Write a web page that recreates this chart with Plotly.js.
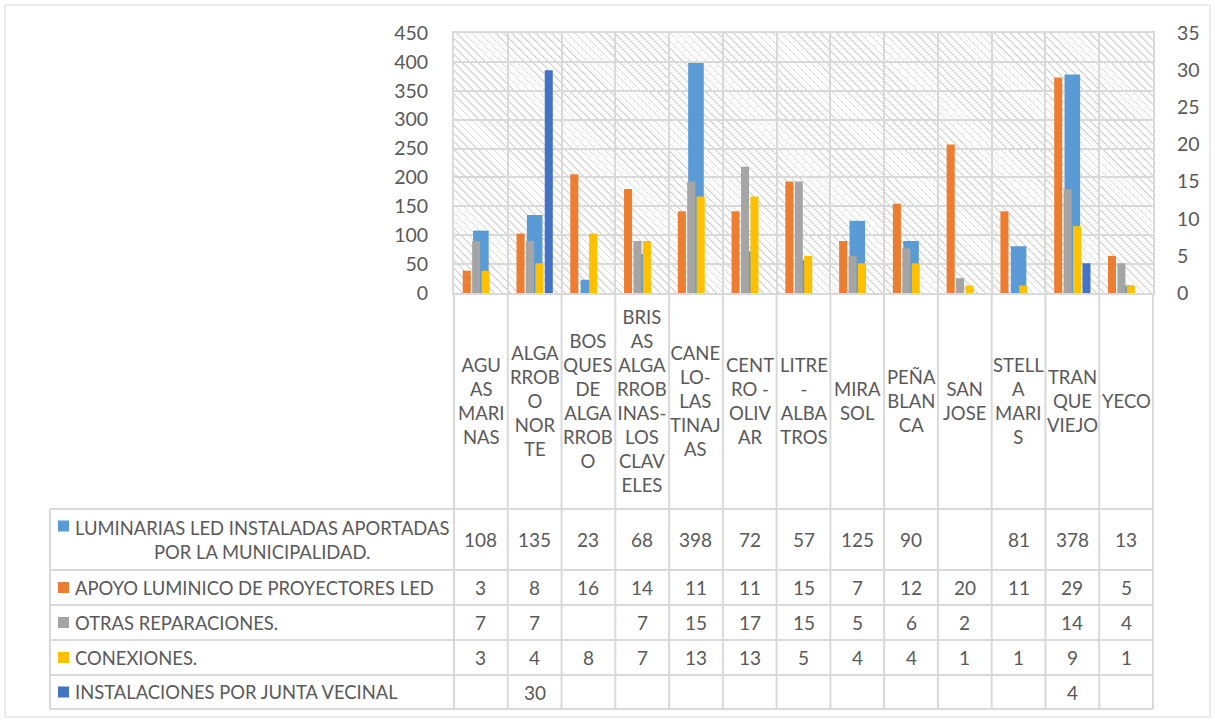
<!DOCTYPE html>
<html><head><meta charset="utf-8">
<script src="https://cdn.plot.ly/plotly-3.0.1.min.js"></script>
<style>
html,body{margin:0;padding:0;background:#fff;}
#wrap{position:relative;width:1215px;height:722px;overflow:hidden;}
#hatch{position:absolute;left:454px;top:33px;width:699px;height:260px;
  background:repeating-linear-gradient(45deg,#dadada 0px,#dadada 1.2px,#ffffff 1.2px,#ffffff 5.6px);}
#chart{position:absolute;left:0;top:0;width:1215px;height:722px;}
</style></head><body>
<div id="wrap"><div id="hatch"></div><div id="chart"></div></div>
<script>
// ---- data ----
const categories = ['AGUAS MARINAS','ALGARROBO NORTE','BOSQUES DE ALGARROBO','BRISAS ALGARROBINAS-LOS CLAVELES',
  'CANELO-LAS TINAJAS','CENTRO - OLIVAR','LITRE - ALBATROS','MIRASOL','PEÑA BLANCA','SAN JOSE',
  'STELLA MARIS','TRANQUE VIEJO','YECO'];
const categoryLabels = ['AGU<br>AS<br>MARI<br>NAS','ALGA<br>RROB<br>O<br>NOR<br>TE','BOS<br>QUES<br>DE<br>ALGA<br>RROB<br>O',
  'BRIS<br>AS<br>ALGA<br>RROB<br>INAS-<br>LOS<br>CLAV<br>ELES','CANE<br>LO-<br>LAS<br>TINAJ<br>AS','CENT<br>RO -<br>OLIV<br>AR',
  'LITRE<br>-<br>ALBA<br>TROS','MIRA<br>SOL','PEÑA<br>BLAN<br>CA','SAN<br>JOSE','STELL<br>A<br>MARI<br>S','TRAN<br>QUE<br>VIEJO','YECO'];
const seriesNames = ['LUMINARIAS LED INSTALADAS APORTADAS<br>POR LA MUNICIPALIDAD.','APOYO LUMINICO DE PROYECTORES LED',
  'OTRAS REPARACIONES.','CONEXIONES.','INSTALACIONES POR JUNTA VECINAL'];
const luminariasLed      = [108,135,23,68,398,72,57,125,90,null,81,378,13];
const apoyoLuminico      = [3,8,16,14,11,11,15,7,12,20,11,29,5];
const otrasReparaciones  = [7,7,null,7,15,17,15,5,6,2,null,14,4];
const conexiones         = [3,4,8,7,13,13,5,4,4,1,1,9,1];
const instalacionesJunta = [null,30,null,null,null,null,null,null,null,null,null,4,null];
const seriesColors = ['#5b9bd5','#ed7d31','#a5a5a5','#ffc000','#4472c4'];

// ---- layout geometry (pixels) ----
const W = 1215, H = 722, PL = 454, PR = 1153, PT = 33, PB = 293;
const xP = px => (px - PL) / (PR - PL);
const yP = py => (PB - py) / (PB - PT);
const FONT = 'Lato, "Open Sans", sans-serif';
const TXT = '#595959';
const GRID = '#d9d9d9';

const allSeries = [luminariasLed, apoyoLuminico, otrasReparaciones, conexiones, instalacionesJunta];
const traces = [];
traces.push({type:'bar', x:categories, y:luminariasLed, name:seriesNames[0], yaxis:'y',
  width:0.29, offset:-0.145, marker:{color:seriesColors[0]}, hoverinfo:'x+y'});
const secOffsets = [-0.3375, -0.1625, 0.0125, 0.1875];
for (let s = 1; s < 5; s++) {
  traces.push({type:'bar', x:categories, y:allSeries[s], name:seriesNames[s], yaxis:'y2',
    width:0.15, offset:secOffsets[s-1], marker:{color:seriesColors[s]}, hoverinfo:'x+y'});
}

// ---- data table ----
const rowLines = [509, 570, 605, 640, 675, 709];
const shapes = [];
const annotations = [];
rowLines.forEach(py => shapes.push({type:'line', xref:'paper', yref:'paper', x0:xP(50), x1:xP(PR), y0:yP(py), y1:yP(py),
  line:{color:GRID, width:2}}));
for (let i = 0; i <= categories.length; i++) {
  const xp = i / categories.length;
  shapes.push({type:'line', xref:'paper', yref:'paper', x0:xp, x1:xp, y0:yP(PB), y1:yP(709), line:{color:GRID, width:2}});
}
shapes.push({type:'line', xref:'paper', yref:'paper', x0:xP(50), x1:xP(50), y0:yP(509), y1:yP(709), line:{color:GRID, width:2}});
categories.forEach((c, i) => annotations.push({xref:'x', yref:'paper', x:c, y:yP(401), text:categoryLabels[i],
  showarrow:false, xanchor:'center', yanchor:'middle', align:'center', font:{family:FONT, size:18.5, color:TXT}}));
for (let s = 0; s < 5; s++) {
  const top = rowLines[s], bot = rowLines[s+1], mid = (top + bot) / 2;
  const keyMid = s === 0 ? 526 : mid;
  shapes.push({type:'rect', xref:'paper', yref:'paper', x0:xP(58), x1:xP(69), y0:yP(keyMid-5.5), y1:yP(keyMid+5.5),
    line:{width:0}, fillcolor:seriesColors[s]});
  annotations.push({xref:'paper', yref:'paper', x:xP(73), y:yP(mid), text:seriesNames[s], showarrow:false,
    xanchor:'left', yanchor:'middle', align:'center', font:{family:FONT, size:18.4, color:TXT}});
  allSeries[s].forEach((v, i) => {
    if (v === null) return;
    annotations.push({xref:'x', yref:'paper', x:categories[i], y:yP(mid), text:String(v), showarrow:false,
      xanchor:'center', yanchor:'middle', font:{family:FONT, size:19, color:TXT}});
  });
}
shapes.push({type:'rect', xref:'paper', yref:'paper', x0:xP(5), x1:xP(1210), y0:yP(5), y1:yP(717),
  line:{color:GRID, width:1}, fillcolor:'rgba(0,0,0,0)'});

const layout = {
  width:W, height:H, margin:{l:PL, r:W-PR, t:PT, b:H-PB, pad:0},
  paper_bgcolor:'rgba(0,0,0,0)', plot_bgcolor:'rgba(0,0,0,0)',
  showlegend:false, barmode:'overlay',
  font:{family:FONT, color:TXT, size:18},
  xaxis:{type:'category', categoryorder:'array', categoryarray:categories, range:[-0.5, categories.length-0.5],
    tickson:'boundaries', showgrid:true, gridcolor:GRID, gridwidth:2, showticklabels:false, ticks:'',
    showline:true, mirror:true, linecolor:GRID, linewidth:2, zeroline:false, fixedrange:true},
  yaxis:{range:[0,450], dtick:50, showgrid:true, gridcolor:GRID, gridwidth:2, zeroline:false,
    showline:true, mirror:true, linecolor:GRID, linewidth:2, ticks:'', ticklabelstandoff:20,
    tickfont:{family:FONT, size:19.5, color:TXT}},
  yaxis2:{range:[0,35], dtick:5, overlaying:'y', side:'right', showgrid:false, zeroline:false, showline:false,
    ticks:'', ticklabelstandoff:23, tickfont:{family:FONT, size:19.5, color:TXT}},
  shapes:shapes, annotations:annotations
};
Plotly.newPlot('chart', traces, layout, {displayModeBar:false, staticPlot:true});
</script>
</body></html>
